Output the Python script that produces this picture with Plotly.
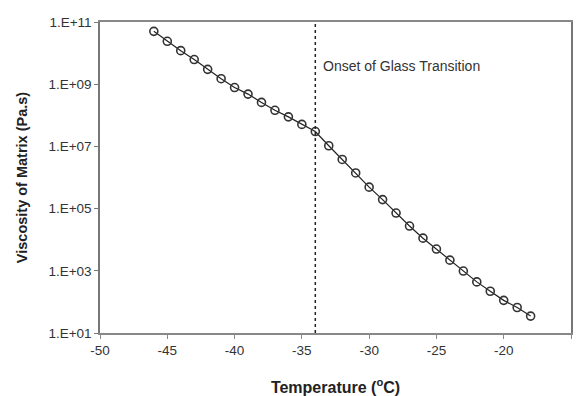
import plotly.graph_objects as go

temperature = [-46, -45, -44, -43, -42, -41, -40, -39, -38, -37, -36, -35, -34,
               -33, -32, -31, -30, -29, -28, -27, -26, -25, -24, -23, -22, -21,
               -20, -19, -18]
viscosity = [5.0e10, 2.4e10, 1.2e10, 6.2e9, 3.0e9, 1.5e9, 7.8e8, 4.8e8, 2.6e8,
             1.45e8, 8.9e7, 5.1e7, 3.0e7, 1.05e7, 3.8e6, 1.4e6, 4.9e5, 1.95e5,
             7.2e4, 2.75e4, 1.12e4, 5.0e3, 2.2e3, 980, 440, 220, 112, 66, 35]

y_tickvals = [1e1, 1e3, 1e5, 1e7, 1e9, 1e11]
y_ticktext = ["1.E+01", "1.E+03", "1.E+05", "1.E+07", "1.E+09", "1.E+11"]
x_tickvals = [-50, -45, -40, -35, -30, -25, -20, -15]
x_ticktext = ["-50", "-45", "-40", "-35", "-30", "-25", "-20", "-15"]

onset_temp = -34
onset_label = "Onset of Glass Transition"

FONT = "Liberation Sans, Arial"

fig = go.Figure()
fig.add_trace(go.Scatter(
    x=temperature, y=viscosity, mode="lines+markers",
    line=dict(color="#222222", width=1.2),
    marker=dict(symbol="circle-open", size=8, color="#333333",
                line=dict(width=1.6, color="#333333")),
    showlegend=False,
))
fig.add_trace(go.Scatter(
    x=[onset_temp, onset_temp], y=[1e1, 1e11], mode="lines",
    line=dict(color="#222222", width=1.5, dash="dot"),
    showlegend=False, hoverinfo="skip",
))
fig.add_annotation(
    x=onset_temp, y=9.59, xref="x", yref="y", yanchor="middle", xanchor="left",
    text=onset_label, showarrow=False, xshift=6,
    font=dict(family=FONT, size=14, color="#333333"),
)

fig.update_layout(
    width=579, height=396,
    margin=dict(l=100, r=8, t=22, b=63, autoexpand=False),
    paper_bgcolor="white", plot_bgcolor="white",
    font=dict(family=FONT, size=13, color="#333333"),
)
fig.update_xaxes(
    range=[-50, -15], tickvals=x_tickvals, ticktext=x_ticktext,
    showgrid=False, zeroline=False, automargin=False,
    showline=True, linecolor="#888888", linewidth=1.5, mirror=True,
    ticks="outside", ticklen=4, tickcolor="#888888",
    tickfont=dict(family=FONT, size=13.5, color="#333333"),
    title=dict(text="<b>Temperature (<sup>o</sup>C)</b>", standoff=30,
               font=dict(family=FONT, size=16, color="#222222")),
)
fig.update_yaxes(
    type="log", range=[1, 11], tickvals=y_tickvals, ticktext=y_ticktext,
    showgrid=False, zeroline=False, automargin=False,
    showline=True, linecolor="#777777", linewidth=1.5, mirror=True,
    ticks="outside", ticklen=4, tickcolor="#777777",
    tickfont=dict(family=FONT, size=13.5, color="#333333"),
    title=dict(text="<b>Viscosity of Matrix (Pa.s)</b>", standoff=17,
               font=dict(family=FONT, size=14.5, color="#222222")),
)

fig.write_html("out.html")
